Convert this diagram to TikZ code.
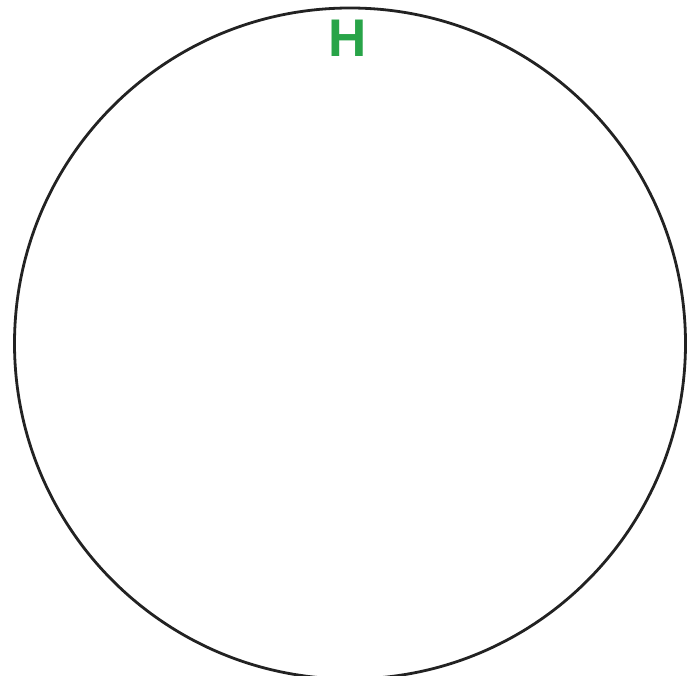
\documentclass[tikz,border=0pt]{standalone}
\usepackage{fontspec}
\setmainfont{Liberation Sans}
\usetikzlibrary{positioning}
\definecolor{labelgreen}{RGB}{40,164,72}
\definecolor{ringgray}{RGB}{34,34,34}
\begin{document}
\begin{tikzpicture}[x=1pt,y=-1pt]

%%%%%%%%%%%%%%%%%%%%%%%%%%%%%%%%%%%%%%%%%%%%%%%%%%%%%%%%%%%%
% PAGE
%%%%%%%%%%%%%%%%%%%%%%%%%%%%%%%%%%%%%%%%%%%%%%%%%%%%%%%%%%%%

\useasboundingbox (0,0) rectangle (696,676);
\clip (0,0) rectangle (696,676);

%%%%%%%%%%%%%%%%%%%%%%%%%%%%%%%%%%%%%%%%%%%%%%%%%%%%%%%%%%%%
% Ring
%%%%%%%%%%%%%%%%%%%%%%%%%%%%%%%%%%%%%%%%%%%%%%%%%%%%%%%%%%%%

\node[
draw=ringgray,
circle,
line width=2.8pt,
inner sep=0pt,
minimum size=671pt
](ring)
at (350,343.5)
{};

%%%%%%%%%%%%%%%%%%%%%%%%%%%%%%%%%%%%%%%%%%%%%%%%%%%%%%%%%%%%
% Label
%%%%%%%%%%%%%%%%%%%%%%%%%%%%%%%%%%%%%%%%%%%%%%%%%%%%%%%%%%%%

\node[
text=labelgreen,
font=\fontsize{53}{53}\selectfont\bfseries,
inner sep=0pt,
anchor=base
](label)
at ([xshift=-2pt,yshift=-50pt]ring.north)
{H};

\end{tikzpicture}
\end{document}
